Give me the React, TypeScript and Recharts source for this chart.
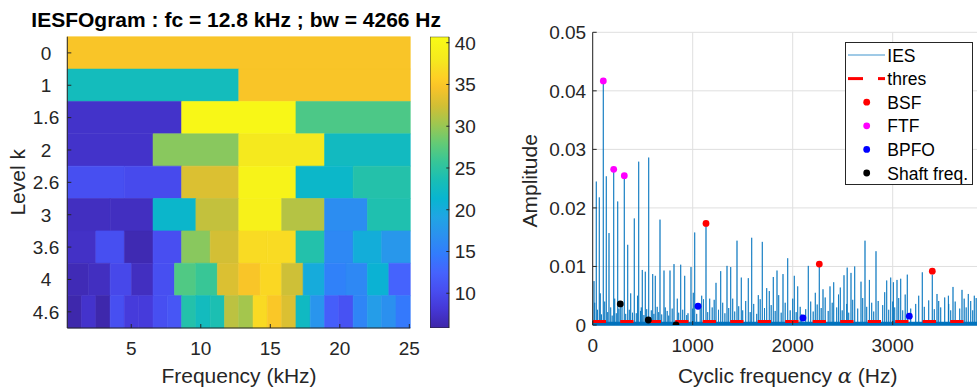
import React from 'react';
import {
  ComposedChart,
  Bar,
  Line,
  Scatter,
  XAxis,
  YAxis,
  CartesianGrid,
  ReferenceArea,
  Legend,
  Label,
} from 'recharts';

// ================= DATA =================
// ---- left: IESFOgram (level x frequency band) ----
const levelLabels = ['0', '1', '1.6', '2', '2.6', '3', '3.6', '4', '4.6'];
const freqRangeKHz = [0.4, 25.07];
const freqTicks = [5, 10, 15, 20, 25];
const colorLimits = [5.84, 40.72];
const colorbarTicks = [10, 15, 20, 25, 30, 35, 40];

const level0 = [34.8];
const level1 = [23.0, 34.8];
const level1_6 = [7.5, 40.1, 26.8];
const level2 = [7.5, 29.4, 38.0, 22.7];
const level2_6 = [10.5, 10.0, 33.0, 39.5, 21.9, 24.4];
const level3 = [7.0, 7.0, 21.8, 31.8, 39.2, 31.2, 16.5, 24.0];
const level3_6 = [7.3, 10.5, 6.3, 10.4, 29.4, 32.5, 36.8, 36.8, 24.3, 16.0, 20.3, 17.5];
const level4 = [6.5, 7.0, 9.8, 7.0, 10.5, 27.0, 25.8, 33.0, 34.8, 36.5, 32.3, 20.0, 15.2, 16.0, 21.0, 12.5];
const level4_6 = [
  6.0, 7.6, 6.0, 10.5, 8.5, 8.5, 10.5, 11.2, 24.3, 22.8, 23.8, 31.5,
  30.5, 36.7, 35.0, 33.0, 22.5, 17.3, 12.0, 10.8, 15.7, 18.2, 16.8, 14.5,
];
const levelRows = [level0, level1, level1_6, level2, level2_6, level3, level3_6, level4, level4_6];

// ---- right: IES spectrum ----
const alphaRangeHz = [0, 3900];
const alphaTicks = [0, 1000, 2000, 3000];
const ampRange = [0, 0.05];
const ampTicks = [0, 0.01, 0.02, 0.03, 0.04, 0.05];

const mainSpikeFreqs = [
  13, 36, 66, 106, 136, 163, 210, 250, 276, 316, 350, 380, 416, 460, 496, 526, 560, 600, 626, 673,
  713, 773, 813, 880, 920, 983, 1020, 1090, 1133, 1233, 1280, 1343, 1380, 1443, 1486, 1556, 1590,
  1656, 1696, 1740, 1766, 1806, 1843, 1903, 1950, 2016, 2050, 2156, 2226, 2266, 2303, 2373, 2410,
  2476, 2513, 2545, 2583, 2620, 2683, 2723, 2767, 2833, 2940, 2980, 3007, 3043, 3080, 3146, 3296,
  3396, 3443, 3557, 3603, 3693, 3756, 3816,
];
const mainSpikeAmps = [
  0.0075, 0.0245, 0.0218, 0.0417, 0.0254, 0.0157, 0.0266, 0.0211, 0.0036, 0.0255, 0.0137, 0.0054,
  0.0182, 0.0279, 0.0094, 0.0091, 0.0286, 0.0087, 0.0084, 0.018, 0.0093, 0.0093, 0.0104, 0.0103,
  0.0084, 0.0099, 0.0158, 0.005, 0.0174, 0.0072, 0.0092, 0.0101, 0.0099, 0.0144, 0.0081, 0.008,
  0.0149, 0.0051, 0.0142, 0.0063, 0.0058, 0.0082, 0.0093, 0.0087, 0.0114, 0.0084, 0.0066, 0.0101,
  0.0055, 0.0102, 0.0061, 0.0066, 0.0073, 0.0064, 0.0085, 0.0098, 0.0089, 0.01, 0.0074, 0.0144,
  0.0077, 0.0126, 0.0076, 0.0081, 0.0073, 0.0077, 0.0079, 0.0086, 0.009, 0.0086, 0.0053, 0.005,
  0.0065, 0.006, 0.0053, 0.005,
];
const smallSpikeFreqs = [
  20, 48, 76, 88, 120, 150, 180, 195, 220, 236, 262, 293, 330, 366, 398, 436, 448, 478, 486, 512,
  540, 586, 612, 645, 660, 690, 726, 745, 760, 795, 846, 860, 900, 940, 953, 1000, 1006, 1040, 1075,
  1108, 1150, 1170, 1195, 1215, 1258, 1300, 1322, 1360, 1400, 1420, 1460, 1500, 1530, 1575, 1610,
  1640, 1675, 1718, 1785, 1825, 1860, 1885, 1925, 1975, 2000, 2035, 2075, 2090, 2130, 2180, 2205,
  2245, 2285, 2325, 2355, 2395, 2440, 2458, 2495, 2540, 2560, 2600, 2650, 2700, 2740, 2790, 2810,
  2855, 2900, 2920, 2960, 3000, 3020, 3060, 3100, 3125, 3180, 3230, 3260, 3316, 3360, 3416, 3460,
  3480, 3520, 3560, 3580, 3625, 3670, 3715, 3735, 3780, 3800, 3835, 3880,
];
const smallSpikeAmps = [
  0.0038, 0.0026, 0.0054, 0.0018, 0.004, 0.0022, 0.003, 0.0016, 0.0045, 0.002, 0.0028, 0.0035,
  0.0019, 0.0026, 0.0021, 0.002, 0.005, 0.0024, 0.003, 0.0017, 0.0027, 0.0025, 0.0019, 0.0031,
  0.0022, 0.0018, 0.003, 0.0024, 0.0016, 0.0028, 0.0045, 0.0021, 0.0026, 0.0017, 0.002, 0.0028,
  0.0055, 0.0019, 0.0034, 0.0044, 0.0022, 0.0045, 0.003, 0.0043, 0.0026, 0.0038, 0.002, 0.0029,
  0.0045, 0.0023, 0.0032, 0.0025, 0.0041, 0.0022, 0.0036, 0.0019, 0.0044, 0.0029, 0.0034, 0.0024,
  0.0051, 0.0021, 0.0038, 0.0025, 0.0045, 0.0022, 0.0031, 0.0018, 0.0027, 0.004, 0.0023, 0.0035,
  0.0029, 0.0047, 0.0024, 0.0038, 0.003, 0.0052, 0.0025, 0.0036, 0.0021, 0.0043, 0.0028, 0.0046,
  0.0031, 0.0038, 0.0023, 0.0041, 0.0034, 0.0056, 0.0026, 0.004, 0.003, 0.0046, 0.0025, 0.0052,
  0.0028, 0.0036, 0.005, 0.0031, 0.0042, 0.0027, 0.0041, 0.003, 0.0047, 0.0036, 0.0025, 0.004,
  0.0028, 0.0045, 0.003, 0.0041, 0.0025, 0.0046, 0.0038,
];
const spikeBaseAmp = 0.0002;
const noiseFloorAmp = 0.00055;
const thresFreqs = [0, 3900];
const thresAmps = [0.00058, 0.00058];

const bsfFreqs = [1133, 2266, 3396];
const bsfAmps = [0.01735, 0.0104, 0.0092];
const ftfFreqs = [106, 210, 316];
const ftfAmps = [0.0417, 0.0266, 0.0255];
const bpfoFreqs = [1053, 2103, 3166];
const bpfoAmps = [0.0032, 0.0012, 0.0015];
const shaftFreqs = [276, 556, 833];
const shaftAmps = [0.0036, 0.00085, 0.0];

const seriesNames = ['IES', 'thres', 'BSF', 'FTF', 'BPFO', 'Shaft freq.'];
const seriesColors = ['#0072BD', '#FF0000', '#FF0000', '#FF00FF', '#0000FF', '#000000'];

// ================= STYLE / HELPERS =================
const FONT = '"Liberation Sans", Arial, Helvetica, sans-serif';
const AXIS = '#262626';
const TICK_FS = 19;
const LABEL_FS = 21;
const LEGEND_FS = 17.5;

// MATLAB parula colormap anchors: [t, r, g, b]
const parulaAnchors: number[][] = [
  [0 / 63, 0.2422, 0.1504, 0.6603],
  [4 / 63, 0.2706, 0.2147, 0.8364],
  [8 / 63, 0.2813, 0.3006, 0.9414],
  [12 / 63, 0.2699, 0.3892, 0.9906],
  [16 / 63, 0.1963, 0.4847, 0.9892],
  [20 / 63, 0.1687, 0.5703, 0.9359],
  [24 / 63, 0.1248, 0.6459, 0.8883],
  [28 / 63, 0.0297, 0.7082, 0.8163],
  [32 / 63, 0.0964, 0.7444, 0.7105],
  [36 / 63, 0.2161, 0.7778, 0.5906],
  [40 / 63, 0.3909, 0.7956, 0.4581],
  [44 / 63, 0.6174, 0.7792, 0.3172],
  [48 / 63, 0.8203, 0.7503, 0.2093],
  [52 / 63, 0.9727, 0.764, 0.1589],
  [54 / 63, 0.9962, 0.8104, 0.144],
  [56 / 63, 0.9752, 0.8607, 0.1369],
  [58 / 63, 0.9608, 0.9122, 0.1173],
  [63 / 63, 0.9769, 0.9839, 0.0805],
];

function rgb(r: number, g: number, b: number) {
  const h = (v: number) => Math.round(Math.max(0, Math.min(1, v)) * 255);
  return `rgb(${h(r)},${h(g)},${h(b)})`;
}

function parula(value: number): string {
  const t = Math.max(0, Math.min(1, (value - colorLimits[0]) / (colorLimits[1] - colorLimits[0])));
  for (let i = 1; i < parulaAnchors.length; i++) {
    const a = parulaAnchors[i - 1];
    const b = parulaAnchors[i];
    if (t <= b[0]) {
      const u = (t - a[0]) / (b[0] - a[0]);
      return rgb(a[1] + (b[1] - a[1]) * u, a[2] + (b[2] - a[2]) * u, a[3] + (b[3] - a[3]) * u);
    }
  }
  const l = parulaAnchors[parulaAnchors.length - 1];
  return rgb(l[1], l[2], l[3]);
}

const cells = levelRows.flatMap((row, ri) =>
  row.map((v, j) => {
    const w = (freqRangeKHz[1] - freqRangeKHz[0]) / row.length;
    return {
      f0: freqRangeKHz[0] + j * w,
      f1: freqRangeKHz[0] + (j + 1) * w,
      row: ri,
      value: v,
    };
  })
);

const iesData = (() => {
  const spikes = [
    ...mainSpikeFreqs.map((f, i) => ({ f, a: mainSpikeAmps[i] })),
    ...smallSpikeFreqs.map((f, i) => ({ f, a: smallSpikeAmps[i] })),
  ].sort((p, q) => p.f - q.f);
  const pts: { f: number; amp: number }[] = [{ f: alphaRangeHz[0], amp: spikeBaseAmp }];
  spikes.forEach((s) => {
    pts.push({ f: s.f - 0.8, amp: spikeBaseAmp });
    pts.push({ f: s.f, amp: s.a });
    pts.push({ f: s.f + 0.8, amp: spikeBaseAmp });
  });
  pts.push({ f: alphaRangeHz[1], amp: spikeBaseAmp });
  return pts;
})();

const toPts = (fs: number[], as: number[]) => fs.map((f, i) => ({ f, amp: as[i] }));
const thresData = toPts(thresFreqs, thresAmps);
const bsfData = toPts(bsfFreqs, bsfAmps);
const ftfData = toPts(ftfFreqs, ftfAmps);
const bpfoData = toPts(bpfoFreqs, bpfoAmps);
const shaftData = toPts(shaftFreqs, shaftAmps);
const colorbarData = [{ name: 'cb', range: colorLimits }];

// ================= TICKS =================
const BottomTick = (props: any) => {
  const { x, y, payload, fmt } = props;
  return (
    <g>
      <line x1={x} x2={x} y1={y} y2={y - 4} stroke={AXIS} strokeWidth={1} />
      <text x={x} y={y + 27} textAnchor="middle" fontFamily={FONT} fontSize={TICK_FS} fill={AXIS}>
        {fmt ? fmt(payload.value) : payload.value}
      </text>
    </g>
  );
};
const TopTickMark = (props: any) => {
  const { x, y } = props;
  return <line x1={x} x2={x} y1={y} y2={y + 4} stroke={AXIS} strokeWidth={1} />;
};
const RightTickMark = (props: any) => {
  const { x, y } = props;
  return <line x1={x} x2={x - 4} y1={y} y2={y} stroke={AXIS} strokeWidth={1} />;
};
const LevelTick = (props: any) => {
  const { x, y, payload } = props;
  return (
    <g>
      <line x1={x} x2={x + 4} y1={y} y2={y} stroke={AXIS} strokeWidth={1} />
      <text x={46} y={y + 6.8} textAnchor="middle" fontFamily={FONT} fontSize={TICK_FS} fill={AXIS}>
        {levelLabels[payload.value]}
      </text>
    </g>
  );
};
const AmpTick = (props: any) => {
  const { x, y, payload } = props;
  return (
    <g>
      <line x1={x} x2={x + 4} y1={y} y2={y} stroke={AXIS} strokeWidth={1} />
      <text x={x - 6.5} y={y + 6.8} textAnchor="end" fontFamily={FONT} fontSize={TICK_FS} fill={AXIS}>
        {String(payload.value)}
      </text>
    </g>
  );
};
const ColorbarTick = (props: any) => {
  const { x, y, payload } = props;
  return (
    <g>
      <line x1={x} x2={x - 3} y1={y} y2={y} stroke={AXIS} strokeWidth={1} />
      <text x={x + 5.5} y={y + 6.8} textAnchor="start" fontFamily={FONT} fontSize={TICK_FS} fill={AXIS}>
        {payload.value}
      </text>
    </g>
  );
};

// ================= LEGEND =================
const LegendBox = () => {
  const rowY = (i: number) => 13 + i * 23.6;
  return (
    <svg width={128} height={143} style={{ display: 'block' }}>
      <rect x={0.5} y={0.5} width={127} height={142} fill="#fff" stroke={AXIS} strokeWidth={1} />
      {seriesNames.map((name, i) => {
        const y = rowY(i);
        let sym: React.ReactNode;
        if (i === 0) {
          sym = <line x1={3} x2={40} y1={y} y2={y} stroke={seriesColors[i]} strokeWidth={1} opacity={0.75} />;
        } else if (i === 1) {
          sym = (
            <g>
              <line x1={3} x2={18} y1={y} y2={y} stroke={seriesColors[i]} strokeWidth={3} />
              <line x1={33} x2={40} y1={y} y2={y} stroke={seriesColors[i]} strokeWidth={3} />
            </g>
          );
        } else {
          sym = <circle cx={21.7} cy={y} r={3.4} fill={seriesColors[i]} />;
        }
        return (
          <g key={name}>
            {sym}
            <text x={42.3} y={y + 6.6} fontFamily={FONT} fontSize={LEGEND_FS} fill="#000">
              {name}
            </text>
          </g>
        );
      })}
    </svg>
  );
};

const dot = (color: string) => (props: any) =>
  <circle cx={props.cx} cy={props.cy} r={3.4} fill={color} />;

// ================= APP =================
export default function App() {
  const [cMin, cMax] = colorLimits;
  return (
    <div
      style={{
        position: 'absolute',
        left: 0,
        top: 0,
        width: 977,
        height: 392,
        overflow: 'hidden',
        background: '#fff',
        fontFamily: FONT,
      }}
    >
      {/* Title */}
      <div
        style={{
          position: 'absolute',
          left: 0,
          top: 9.3,
          width: 472.4,
          textAlign: 'center',
          fontFamily: FONT,
          fontWeight: 'bold',
          fontSize: LABEL_FS,
          lineHeight: `${LABEL_FS}px`,
          color: '#000',
          whiteSpace: 'nowrap',
        }}
      >
        IESFOgram : fc = 12.8 kHz ; bw = 4266 Hz
      </div>

      {/* Left heatmap */}
      <div style={{ position: 'absolute', left: 0, top: 0 }}>
        <ComposedChart
          width={420}
          height={392}
          data={cells}
          margin={{ top: 36.7, right: 9.7, bottom: 0, left: 7.3 }}
        >
          {cells.map((c, i) => (
            <ReferenceArea
              key={i}
              x1={c.f0}
              x2={c.f1}
              y1={c.row - 0.5}
              y2={c.row + 0.5}
              fill={parula(c.value)}
              fillOpacity={1}
              stroke={parula(c.value)}
              strokeWidth={0.6}
              ifOverflow="visible"
            />
          ))}
          <XAxis
            type="number"
            dataKey="f0"
            domain={freqRangeKHz}
            ticks={freqTicks}
            interval={0}
            allowDataOverflow
            height={64}
            tickSize={0}
            tickMargin={0}
            tickLine={false}
            axisLine={{ stroke: AXIS, strokeWidth: 1 }}
            tick={<BottomTick />}
          >
            <Label
              content={() => (
                <text x={239} y={383.3} textAnchor="middle" fontFamily={FONT} fontSize={LABEL_FS} fill={AXIS}>
                  Frequency (kHz)
                </text>
              )}
            />
          </XAxis>
          <XAxis
            xAxisId="top"
            orientation="top"
            type="number"
            domain={freqRangeKHz}
            ticks={freqTicks}
            interval={0}
            allowDataOverflow
            height={0}
            tickSize={0}
            tickMargin={0}
            tickLine={false}
            axisLine={{ stroke: AXIS, strokeWidth: 1 }}
            tick={<TopTickMark />}
          />
          <YAxis
            type="number"
            dataKey="row"
            domain={[-0.5, 8.5]}
            reversed
            ticks={[0, 1, 2, 3, 4, 5, 6, 7, 8]}
            interval={0}
            allowDataOverflow
            width={60}
            tickSize={0}
            tickMargin={0}
            tickLine={false}
            axisLine={{ stroke: AXIS, strokeWidth: 1 }}
            tick={<LevelTick />}
          >
            <Label
              content={() => (
                <text
                  x={25}
                  y={182.3}
                  transform="rotate(-90 25 182.3)"
                  textAnchor="middle"
                  fontFamily={FONT}
                  fontSize={LABEL_FS}
                  fill={AXIS}
                >
                  Level k
                </text>
              )}
            />
          </YAxis>
          <YAxis
            yAxisId="right"
            orientation="right"
            type="number"
            domain={[-0.5, 8.5]}
            reversed
            ticks={[0, 1, 2, 3, 4, 5, 6, 7, 8]}
            interval={0}
            allowDataOverflow
            width={0}
            tickSize={0}
            tickMargin={0}
            tickLine={false}
            axisLine={{ stroke: AXIS, strokeWidth: 1 }}
            tick={<RightTickMark />}
          />
        </ComposedChart>
      </div>

      {/* Colorbar */}
      <div style={{ position: 'absolute', left: 430, top: 0 }}>
        <ComposedChart
          width={50}
          height={392}
          data={colorbarData}
          margin={{ top: 36.7, right: 0, bottom: 64, left: 0 }}
          barCategoryGap={0}
        >
          <defs>
            <linearGradient id="parulaGrad" x1="0" y1="1" x2="0" y2="0">
              {parulaAnchors.map((a, i) => (
                <stop key={i} offset={a[0]} stopColor={rgb(a[1], a[2], a[3])} />
              ))}
            </linearGradient>
          </defs>
          <XAxis dataKey="name" type="category" hide />
          <YAxis
            orientation="right"
            type="number"
            domain={[cMin, cMax]}
            ticks={colorbarTicks}
            interval={0}
            allowDataOverflow
            width={30.7}
            tickSize={0}
            tickMargin={0}
            tickLine={false}
            axisLine={false}
            tick={<ColorbarTick />}
          />
          <Bar
            dataKey="range"
            fill="url(#parulaGrad)"
            stroke={AXIS}
            strokeWidth={1}
            isAnimationActive={false}
          />
        </ComposedChart>
      </div>

      {/* Right spectrum */}
      <div style={{ position: 'absolute', left: 500, top: 0 }}>
        <ComposedChart
          width={500}
          height={392}
          margin={{ top: 32.3, right: 17.3, bottom: 0, left: 32.7 }}
        >
          <CartesianGrid stroke="#dfdfdf" strokeWidth={1} />
          <ReferenceArea
            x1={alphaRangeHz[0]}
            x2={alphaRangeHz[1]}
            y1={-0.00012}
            y2={noiseFloorAmp}
            fill="#0072BD"
            fillOpacity={1}
            stroke="none"
            ifOverflow="visible"
          />
          <XAxis
            type="number"
            dataKey="f"
            domain={alphaRangeHz}
            ticks={alphaTicks}
            interval={0}
            allowDataOverflow
            height={67}
            tickSize={0}
            tickMargin={0}
            tickLine={false}
            axisLine={false}
            tick={<BottomTick />}
          >
            <Label
              content={() => (
                <text x={287.7} y={382.5} textAnchor="middle" fontFamily={FONT} fontSize={LABEL_FS} fill={AXIS}>
                  {'Cyclic frequency '}
                  <tspan fontFamily='"DejaVu Serif", "Liberation Serif", serif' fontStyle="italic">
                    α
                  </tspan>
                  {' (Hz)'}
                </text>
              )}
            />
          </XAxis>
          <XAxis
            xAxisId="top"
            orientation="top"
            type="number"
            domain={alphaRangeHz}
            ticks={alphaTicks}
            interval={0}
            allowDataOverflow
            height={0}
            tickSize={0}
            tickMargin={0}
            tickLine={false}
            axisLine={{ stroke: AXIS, strokeWidth: 1 }}
            tick={<TopTickMark />}
          />
          <YAxis
            type="number"
            dataKey="amp"
            domain={ampRange}
            ticks={ampTicks}
            interval={0}
            allowDataOverflow
            width={60}
            tickSize={0}
            tickMargin={0}
            tickLine={false}
            axisLine={{ stroke: AXIS, strokeWidth: 1 }}
            tick={<AmpTick />}
          >
            <Label
              content={() => (
                <text
                  x={37}
                  y={180.8}
                  transform="rotate(-90 37 180.8)"
                  textAnchor="middle"
                  fontFamily={FONT}
                  fontSize={LABEL_FS}
                  fill={AXIS}
                >
                  Amplitude
                </text>
              )}
            />
          </YAxis>
          <Line
            data={iesData}
            dataKey="amp"
            name={seriesNames[0]}
            stroke={seriesColors[0]}
            strokeWidth={0.8}
            strokeOpacity={0.9}
            dot={false}
            activeDot={false}
            isAnimationActive={false}
            type="linear"
          />
          <Line
            data={thresData}
            dataKey="amp"
            name={seriesNames[1]}
            stroke={seriesColors[1]}
            strokeWidth={3}
            strokeDasharray="13.3 14.2"
            dot={false}
            activeDot={false}
            isAnimationActive={false}
            type="linear"
          />
          <Scatter data={bsfData} dataKey="amp" name={seriesNames[2]} fill={seriesColors[2]} shape={dot(seriesColors[2])} isAnimationActive={false} />
          <Scatter data={ftfData} dataKey="amp" name={seriesNames[3]} fill={seriesColors[3]} shape={dot(seriesColors[3])} isAnimationActive={false} />
          <Scatter data={bpfoData} dataKey="amp" name={seriesNames[4]} fill={seriesColors[4]} shape={dot(seriesColors[4])} isAnimationActive={false} />
          <Scatter data={shaftData} dataKey="amp" name={seriesNames[5]} fill={seriesColors[5]} shape={dot(seriesColors[5])} isAnimationActive={false} />
          <Legend
            layout="horizontal"
            verticalAlign="middle"
            align="center"
            content={<LegendBox />}
            wrapperStyle={{ position: 'absolute', left: 345, top: 41.7, width: 128, height: 143 }}
          />
        </ComposedChart>
      </div>
    </div>
  );
}
